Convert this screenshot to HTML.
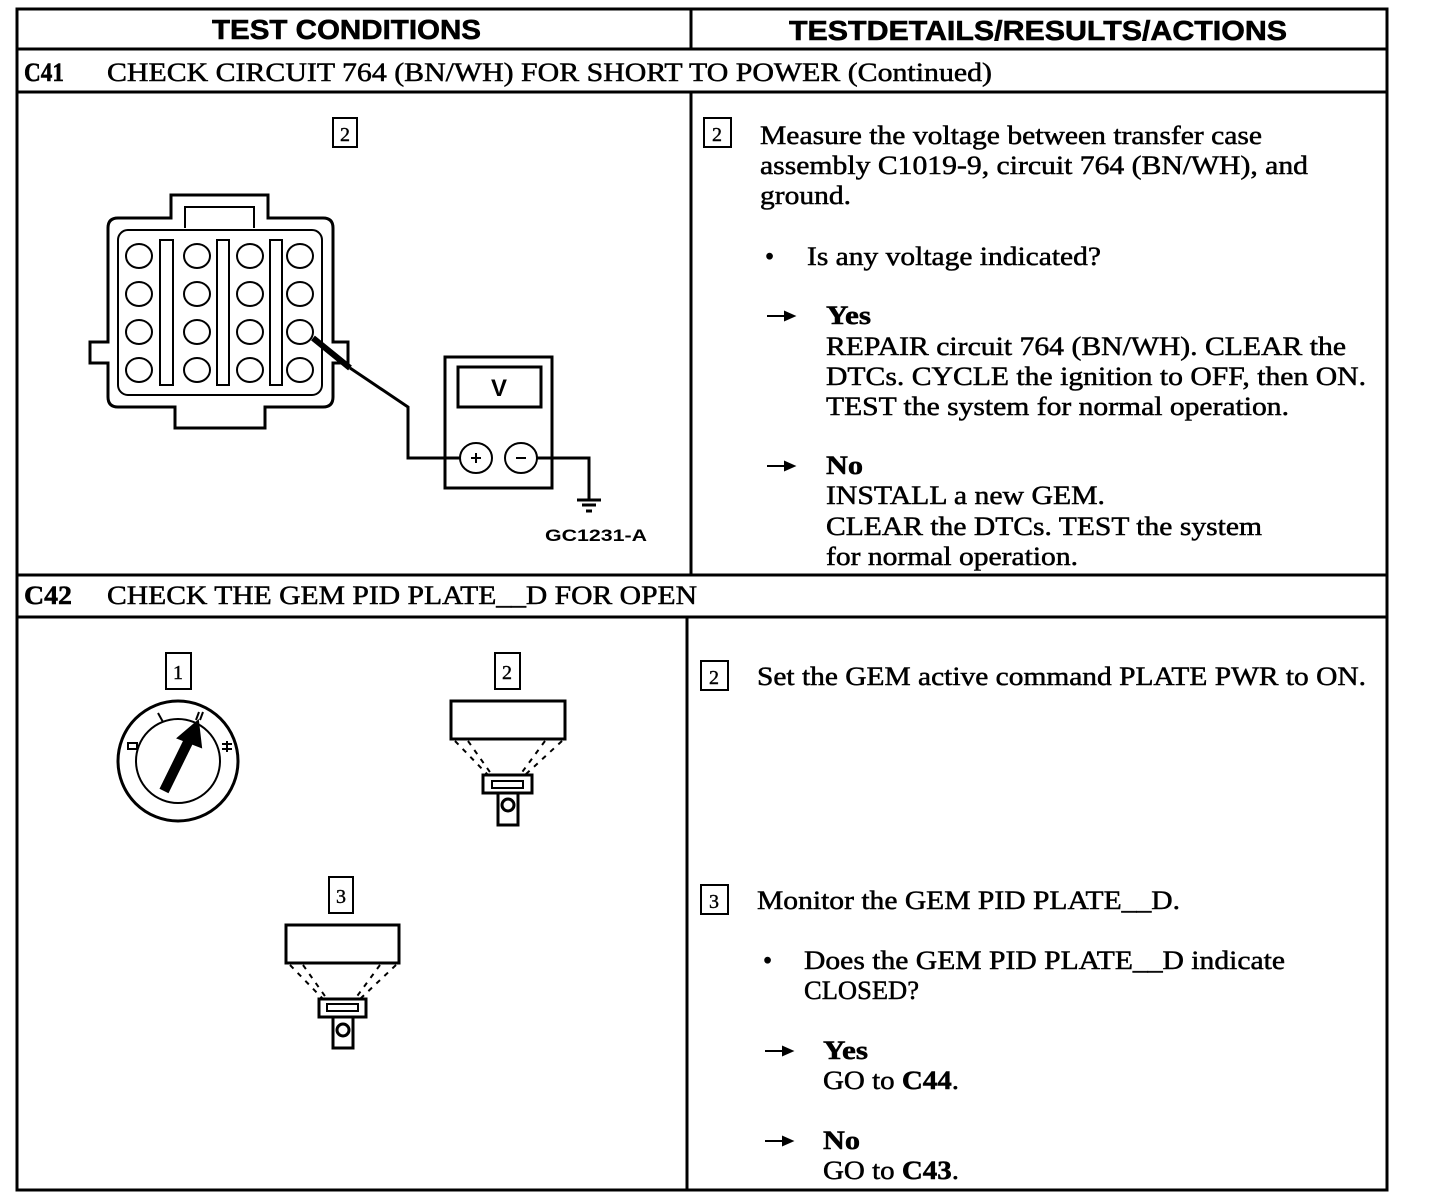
<!DOCTYPE html>
<html><head><meta charset="utf-8"><style>
html,body{margin:0;padding:0;background:#fff;}
svg{display:block;}
.t{font-family:"Liberation Serif",serif;font-size:26px;fill:#000;stroke:#000;stroke-width:0.5;}
.b{font-weight:bold;}
.h{font-family:"Liberation Sans",sans-serif;font-weight:bold;font-size:28px;fill:#000;stroke:#000;stroke-width:0.6;}
.n{font-family:"Liberation Serif",serif;font-size:20px;fill:#000;stroke:#000;stroke-width:0.4;}
</style></head><body>
<svg width="1440" height="1202" viewBox="0 0 1440 1202" xmlns="http://www.w3.org/2000/svg">
<g stroke="#000" stroke-width="3" fill="none">
<rect x="17" y="9" width="1370" height="1181"/>
<line x1="17" y1="49" x2="1387" y2="49"/>
<line x1="17" y1="92" x2="1387" y2="92"/>
<line x1="17" y1="575" x2="1387" y2="575"/>
<line x1="17" y1="617" x2="1387" y2="617"/>
<line x1="691" y1="9" x2="691" y2="49"/>
<line x1="691" y1="92" x2="691" y2="575"/>
<line x1="687" y1="617" x2="687" y2="1190"/>
</g>
<text class="h" x="212" y="39" textLength="269" lengthAdjust="spacingAndGlyphs">TEST CONDITIONS</text>
<text class="h" x="789" y="40" textLength="498" lengthAdjust="spacingAndGlyphs">TESTDETAILS/RESULTS/ACTIONS</text>
<text class="t b" x="24" y="81" textLength="40" lengthAdjust="spacingAndGlyphs">C41</text>
<text class="t" x="107" y="81" textLength="885" lengthAdjust="spacingAndGlyphs">CHECK CIRCUIT 764 (BN/WH) FOR SHORT TO POWER (Continued)</text>
<text class="t b" x="24" y="604" textLength="48" lengthAdjust="spacingAndGlyphs">C42</text>
<text class="t" x="107" y="604" textLength="590" lengthAdjust="spacingAndGlyphs">CHECK THE GEM PID PLATE__D FOR OPEN</text>

<g stroke="#000" fill="none" stroke-width="3">
<rect x="333" y="118" width="24" height="29" stroke-width="2"/>
<path d="M171 218 V195 H268 V218 H323 Q333 218 333 228 V342 H348 V363 H333 V397 Q333 407 323 407 H265 V428 H175 V407 H118 Q108 407 108 397 V363 H90 V342 H108 V228 Q108 218 118 218 Z"/>
<rect x="118" y="230" width="204" height="165" rx="10" stroke-width="2"/>
<path d="M185 228 V207 H254 V228" stroke-width="2"/>
<g stroke-width="2">
<rect x="160" y="240" width="13" height="145"/><rect x="217" y="240" width="12" height="145"/><rect x="270" y="240" width="12" height="145"/>
<ellipse cx="139" cy="256" rx="13" ry="12"/><ellipse cx="197" cy="256" rx="13" ry="12"/><ellipse cx="250" cy="256" rx="13" ry="12"/><ellipse cx="300" cy="256" rx="13" ry="12"/>
<ellipse cx="139" cy="294" rx="13" ry="12"/><ellipse cx="197" cy="294" rx="13" ry="12"/><ellipse cx="250" cy="294" rx="13" ry="12"/><ellipse cx="300" cy="294" rx="13" ry="12"/>
<ellipse cx="139" cy="332" rx="13" ry="12"/><ellipse cx="197" cy="332" rx="13" ry="12"/><ellipse cx="250" cy="332" rx="13" ry="12"/><ellipse cx="300" cy="332" rx="13" ry="12"/>
<ellipse cx="139" cy="370" rx="13" ry="12"/><ellipse cx="197" cy="370" rx="13" ry="12"/><ellipse cx="250" cy="370" rx="13" ry="12"/><ellipse cx="300" cy="370" rx="13" ry="12"/>
</g>
<line x1="313" y1="338" x2="350" y2="368" stroke-width="6"/>
<path d="M350 368 L408 407 V458 H460"/>
<rect x="445" y="357" width="107" height="131"/>
<rect x="458" y="367" width="83" height="40"/>
<ellipse cx="476" cy="458" rx="16" ry="15" stroke-width="2"/>
<ellipse cx="521" cy="458" rx="16" ry="15" stroke-width="2"/>
<path d="M537 458 H589 V500"/>
<line x1="577" y1="500" x2="601" y2="500"/><line x1="582" y1="505" x2="596" y2="505"/><line x1="586" y1="511" x2="592" y2="511"/>
<path d="M471 458 H481 M476 453 V463 M516 458 H526" stroke-width="2"/>
</g>
<text x="499" y="396" font-family="Liberation Sans,sans-serif" font-weight="bold" font-size="24" text-anchor="middle">V</text>
<text class="n" x="345" y="141" text-anchor="middle">2</text>
<text x="545" y="541" font-family="Liberation Sans,sans-serif" font-weight="bold" font-size="17" textLength="102" lengthAdjust="spacingAndGlyphs">GC1231-A</text>

<g stroke="#000" fill="none" stroke-width="2">
<rect x="166" y="653" width="25" height="36"/>
<rect x="495" y="653" width="25" height="36"/>
<rect x="329" y="877" width="24" height="36"/>
<circle cx="178" cy="761" r="60" stroke-width="3"/>
<circle cx="178" cy="761" r="42"/>
<path d="M158 713 L163 722 M199 712 L196 720 M203 712 L200 720"/>
<rect x="128" y="743" width="9" height="6"/>
<path d="M222 744 H232 M222 749 H232 M227 741 V752"/>
<line x1="164" y1="791" x2="191" y2="736" stroke-width="10"/>
<polygon points="198,721 178,738 201,747" fill="#000"/>
<rect x="451" y="701" width="114" height="38" stroke-width="3"/>
<path d="M455 741 L488 775 M468 741 L492 775 M545 741 L520 775 M562 741 L525 775" stroke-dasharray="5,6"/>
<rect x="483" y="775" width="49" height="18" stroke-width="3"/>
<rect x="492" y="781" width="31" height="7"/>
<rect x="498" y="793" width="20" height="32" stroke-width="3"/>
<circle cx="508" cy="805" r="6" stroke-width="3"/>
<rect x="286" y="925" width="113" height="38" stroke-width="3"/>
<path d="M290 965 L323 999 M303 965 L327 999 M380 965 L355 999 M396 965 L360 999" stroke-dasharray="5,6"/>
<rect x="319" y="999" width="47" height="18" stroke-width="3"/>
<rect x="327" y="1004" width="31" height="7"/>
<rect x="333" y="1017" width="20" height="31" stroke-width="3"/>
<circle cx="343" cy="1030" r="6" stroke-width="3"/>
</g>
<text class="n" x="178" y="679" text-anchor="middle">1</text>
<text class="n" x="507" y="679" text-anchor="middle">2</text>
<text class="n" x="341" y="903" text-anchor="middle">3</text>

<g stroke="#000" fill="none" stroke-width="2">
<rect x="704" y="118" width="27" height="29"/>
<rect x="701" y="661" width="27" height="29"/>
<rect x="701" y="885" width="27" height="29"/>
</g>
<text class="n" x="717" y="141" text-anchor="middle">2</text>
<text class="n" x="714" y="684" text-anchor="middle">2</text>
<text class="n" x="714" y="908" text-anchor="middle">3</text>

<!-- arrows -->
<g stroke="#000" stroke-width="2" fill="#000">
<line x1="767" y1="316" x2="787" y2="316"/><polygon points="794,316 785,312 785,320"/>
<line x1="767" y1="466" x2="787" y2="466"/><polygon points="794,466 785,462 785,470"/>
<line x1="765" y1="1051" x2="785" y2="1051"/><polygon points="792,1051 783,1047 783,1055"/>
<line x1="765" y1="1141" x2="785" y2="1141"/><polygon points="792,1141 783,1137 783,1145"/>
</g>

<text class="t" x="760" y="144" textLength="502" lengthAdjust="spacingAndGlyphs">Measure the voltage between transfer case</text>
<text class="t" x="760" y="174" textLength="548" lengthAdjust="spacingAndGlyphs">assembly C1019-9, circuit 764 (BN/WH), and</text>
<text class="t" x="760" y="204" textLength="91" lengthAdjust="spacingAndGlyphs">ground.</text>
<text class="t" x="765" y="265">•</text>
<text class="t" x="807" y="265" textLength="294" lengthAdjust="spacingAndGlyphs">Is any voltage indicated?</text>
<text class="t b" x="826" y="324" textLength="45" lengthAdjust="spacingAndGlyphs">Yes</text>
<text class="t" x="826" y="355" textLength="520" lengthAdjust="spacingAndGlyphs">REPAIR circuit 764 (BN/WH). CLEAR the</text>
<text class="t" x="826" y="385" textLength="540" lengthAdjust="spacingAndGlyphs">DTCs. CYCLE the ignition to OFF, then ON.</text>
<text class="t" x="826" y="415" textLength="463" lengthAdjust="spacingAndGlyphs">TEST the system for normal operation.</text>
<text class="t b" x="826" y="474" textLength="37" lengthAdjust="spacingAndGlyphs">No</text>
<text class="t" x="826" y="504" textLength="279" lengthAdjust="spacingAndGlyphs">INSTALL a new GEM.</text>
<text class="t" x="826" y="535" textLength="436" lengthAdjust="spacingAndGlyphs">CLEAR the DTCs. TEST the system</text>
<text class="t" x="826" y="565" textLength="252" lengthAdjust="spacingAndGlyphs">for normal operation.</text>

<text class="t" x="757" y="685" textLength="609" lengthAdjust="spacingAndGlyphs">Set the GEM active command PLATE PWR to ON.</text>
<text class="t" x="757" y="909" textLength="423" lengthAdjust="spacingAndGlyphs">Monitor the GEM PID PLATE__D.</text>
<text class="t" x="763" y="969">•</text>
<text class="t" x="804" y="969" textLength="481" lengthAdjust="spacingAndGlyphs">Does the GEM PID PLATE__D indicate</text>
<text class="t" x="804" y="999" textLength="115" lengthAdjust="spacingAndGlyphs">CLOSED?</text>
<text class="t b" x="823" y="1059" textLength="45" lengthAdjust="spacingAndGlyphs">Yes</text>
<text class="t" x="823" y="1089" textLength="136" lengthAdjust="spacingAndGlyphs">GO to <tspan font-weight="bold">C44</tspan>.</text>
<text class="t b" x="823" y="1149" textLength="37" lengthAdjust="spacingAndGlyphs">No</text>
<text class="t" x="823" y="1179" textLength="136" lengthAdjust="spacingAndGlyphs">GO to <tspan font-weight="bold">C43</tspan>.</text>
</svg>
</body></html>
